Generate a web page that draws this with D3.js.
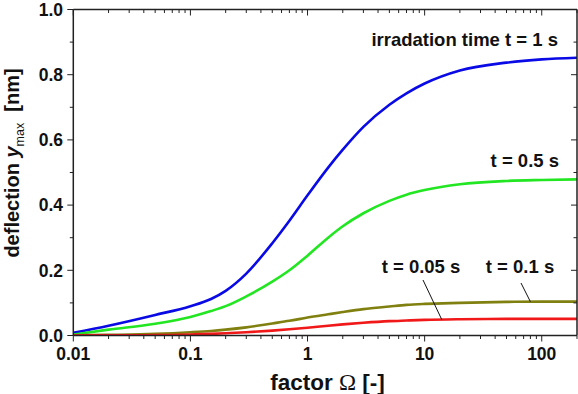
<!DOCTYPE html>
<html><head><meta charset="utf-8">
<script src="https://cdn.jsdelivr.net/npm/d3@7"></script>
<style>body{margin:0;background:#fff}svg{display:block;font-family:"Liberation Sans",Arial,sans-serif}</style>
</head><body><svg id="c" width="578" height="394"></svg>
<script>
const omega = [0.01,0.02,0.05,0.1,0.15,0.2,0.3,0.5,0.7,1,1.5,2,3,5,7,10,20,50,100,200];
const t1   = [0.008,0.03,0.063,0.09,0.112,0.137,0.19,0.283,0.352,0.43,0.515,0.57,0.64,0.708,0.743,0.773,0.813,0.837,0.847,0.852];
const t05  = [0.003,0.018,0.036,0.057,0.075,0.09,0.12,0.165,0.2,0.245,0.3,0.335,0.375,0.413,0.432,0.446,0.464,0.474,0.477,0.479];
const t01  = [0.0005,0.002,0.005,0.01,0.014,0.018,0.025,0.037,0.045,0.055,0.065,0.072,0.081,0.089,0.094,0.097,0.1,0.103,0.104,0.104];
const t005 = [0,0.0005,0.001,0.003,0.005,0.007,0.01,0.015,0.019,0.024,0.03,0.034,0.039,0.044,0.046,0.048,0.05,0.051,0.051,0.051];
const seriesNames = ["t = 1 s","t = 0.5 s","t = 0.1 s","t = 0.05 s"];
const seriesColors = ["#0a0ae6","#22e622","#808010","#f01818"];
const xTicks = [0.01,0.1,1,10,100];
const xTickLabels = ["0.01","0.1","1","10","100"];
const yTicks = [0,0.2,0.4,0.6,0.8,1.0];
const yTickLabels = ["0.0","0.2","0.4","0.6","0.8","1.0"];

const svg = d3.select("#c");
const L=73.3, R=577, T=9.5, B=335.5;
const x = d3.scaleLog().domain([0.01,200]).range([L,R]);
const y = d3.scaleLinear().domain([0,1]).range([B,T]);
const minor = [];
for (let d=0.01; d<200; d*=10) for (let k=2;k<=9;k++) if (d*k<=200) minor.push(d*k);
const yMinor = [0.1,0.3,0.5,0.7,0.9];

const g = svg.append("g");
svg.append("clipPath").attr("id","cp").append("rect").attr("x",L).attr("y",T).attr("width",R-L).attr("height",B-T);
const line = d3.line().x((d,i)=>x(omega[i])).y(d=>y(d)).curve(d3.curveMonotoneX);
[t1,t05,t01,t005].forEach((s,i)=>{
  g.append("path").attr("d",line(s)).attr("fill","none").attr("stroke",seriesColors[i]).attr("stroke-width",2.6).attr("clip-path","url(#cp)");
});

const axC = "#222";
const tickG = svg.append("g").attr("stroke",axC).attr("stroke-width",1);
tickG.append("line").attr("x1",L).attr("x2",R).attr("y1",B).attr("y2",B).attr("stroke-width",1.5);
tickG.append("line").attr("x1",L).attr("x2",R).attr("y1",T).attr("y2",T).attr("stroke-width",1.5);
tickG.append("line").attr("x1",L).attr("x2",L).attr("y1",T).attr("y2",B).attr("stroke-width",1.5);
tickG.append("line").attr("x1",R).attr("x2",R).attr("y1",T).attr("y2",B).attr("stroke-width",1.5);
xTicks.forEach(v=>{
  tickG.append("line").attr("x1",x(v)).attr("x2",x(v)).attr("y1",B).attr("y2",B+6);
  tickG.append("line").attr("x1",x(v)).attr("x2",x(v)).attr("y1",T).attr("y2",T+6);
});
minor.forEach(v=>{
  tickG.append("line").attr("x1",x(v)).attr("x2",x(v)).attr("y1",B).attr("y2",B+3.5);
  tickG.append("line").attr("x1",x(v)).attr("x2",x(v)).attr("y1",T).attr("y2",T+3.5);
});
yTicks.forEach(v=>{
  tickG.append("line").attr("x1",L-6).attr("x2",L).attr("y1",y(v)).attr("y2",y(v));
  tickG.append("line").attr("x1",R-6).attr("x2",R).attr("y1",y(v)).attr("y2",y(v));
});
yMinor.forEach(v=>{
  tickG.append("line").attr("x1",L-3.5).attr("x2",L).attr("y1",y(v)).attr("y2",y(v));
  tickG.append("line").attr("x1",R-3.5).attr("x2",R).attr("y1",y(v)).attr("y2",y(v));
});
xTicks.forEach((v,i)=>{
  svg.append("text").attr("x",x(v)).attr("y",360).attr("text-anchor","middle")
    .attr("font-size",17.5).attr("font-weight","bold").attr("fill","#111").text(xTickLabels[i]);
});
yTicks.forEach((v,i)=>{
  svg.append("text").attr("x",63).attr("y",y(v)+6.3).attr("text-anchor","end")
    .attr("font-size",17.5).attr("font-weight","bold").attr("fill","#111").text(yTickLabels[i]);
});
const xt = svg.append("text").attr("x",327.5).attr("y",390).attr("text-anchor","middle")
  .attr("font-size",22.5).attr("font-weight","bold").attr("fill","#111");
xt.append("tspan").text("factor ");
xt.append("tspan").attr("font-weight","normal").attr("font-family","'Liberation Serif',serif").attr("font-size",23).text("Ω");
xt.append("tspan").text(" [-]");
const yt = svg.append("text").attr("transform","translate(19,163) rotate(-90)").attr("text-anchor","middle")
  .attr("font-size",20).attr("font-weight","bold").attr("fill","#111");
yt.append("tspan").text("deflection ");
yt.append("tspan").attr("font-style","italic").text("y");
yt.append("tspan").attr("font-size",12.5).attr("font-weight","normal").attr("dy",5).text("max");
yt.append("tspan").attr("dy",-5).attr("xml:space","preserve").text("  [nm]");

const ann = [
  {t:"irradation time t = 1 s", x:558, y:46, a:"end"},
  {t:"t = 0.5 s", x:559, y:167, a:"end"},
  {t:"t = 0.05 s", x:421, y:273, a:"middle"},
  {t:"t = 0.1 s", x:520, y:273, a:"middle"}
];
ann.forEach(d=>svg.append("text").attr("x",d.x).attr("y",d.y).attr("text-anchor",d.a)
  .attr("font-size",18.5).attr("font-weight","bold").attr("fill","#111").text(d.t));
const leaders = [
  {fx:423, fy:280, om:14, s:t005},
  {fx:521, fy:283, om:80, s:t01}
];
leaders.forEach(d=>{
  const i = d3.bisectLeft(omega,d.om);
  const f = (Math.log(d.om)-Math.log(omega[i-1]))/(Math.log(omega[i])-Math.log(omega[i-1]));
  const v = d.s[i-1]+(d.s[i]-d.s[i-1])*f;
  svg.append("line").attr("x1",d.fx).attr("y1",d.fy).attr("x2",x(d.om)).attr("y2",y(v))
    .attr("stroke","#111").attr("stroke-width",1);
});
</script></body></html>
